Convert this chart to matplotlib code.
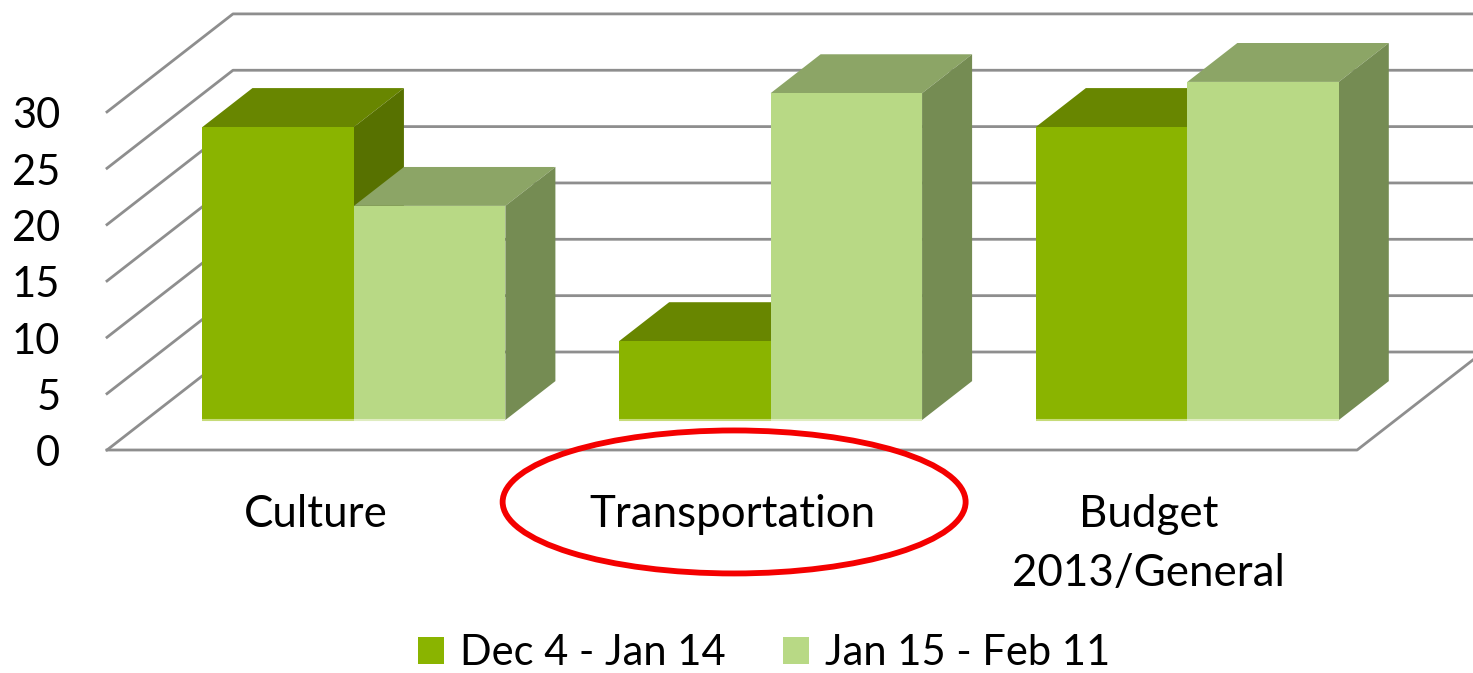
import matplotlib
matplotlib.use("Agg")
import matplotlib.pyplot as plt
from matplotlib.patches import Polygon, Ellipse, Patch

categories = ["Culture", "Transportation", "Budget\n2013/General"]
series_names = ["Dec 4 - Jan 14", "Jan 15 - Feb 11"]
dec_jan = [26, 7, 26]
jan_feb = [19, 29, 30]
y_ticks = [0, 5, 10, 15, 20, 25, 30]

plt.rcParams['font.family'] = ['Lato', 'DejaVu Sans']

# one x unit = one category, one y unit = one value, depth goes from 0 to 1
PX_X = 416.7
PX_Y = 11.27
DEPTH_X = 126 / PX_X
DEPTH_Y = 98 / PX_Y
BAR_W = 0.3635
D0, D1 = 0.306, 0.703

# front face, top, side, thin base strip
dark = ("#8ab400", "#688600", "#577100", "#c6db78")
light = ("#b8d985", "#8ca566", "#758c53", "#dfecc0")
grid_c = "#8e8e8e"


def proj(x, v, d):
    return (x + d * DEPTH_X, v + d * DEPTH_Y)


def draw_bar(ax, x, v, cols, z):
    x2 = x + BAR_W
    ax.add_patch(Polygon([proj(x, v, D0), proj(x2, v, D0), proj(x2, v, D1), proj(x, v, D1)],
                         fc=cols[1], ec="none", zorder=z))
    ax.add_patch(Polygon([proj(x2, 0, D0), proj(x2, v, D0), proj(x2, v, D1), proj(x2, 0, D1)],
                         fc=cols[2], ec="none", zorder=z))
    ax.add_patch(Polygon([proj(x, 0, D0), proj(x2, 0, D0), proj(x2, v, D0), proj(x, v, D0)],
                         fc=cols[0], ec="none", zorder=z + 0.1))
    ax.plot(*zip(proj(x, 0, D0), proj(x2, 0, D0)), color=cols[3], lw=1.5, zorder=z + 0.2,
            solid_capstyle="butt")


fig = plt.figure(figsize=(14.73, 6.73), dpi=100)
ax = fig.add_axes([0, 0, 1, 1])
ax.set_xlim(-107 / PX_X, (1473 - 107) / PX_X)
ax.set_ylim((450 - 673) / PX_Y, 450 / PX_Y)
ax.axis("off")

n = len(categories)
# walls and floor grid
for t in y_ticks:
    ax.plot(*zip(proj(0, t, 0), proj(0, t, 1), proj(n, t, 1)), color=grid_c, lw=2.0, zorder=1)
ax.plot(*zip(proj(0, 0, 0), proj(n, 0, 0), proj(n, 0, 1)), color=grid_c, lw=2.0, zorder=1)

for i in range(n):
    z = 2 + i
    draw_bar(ax, i + 0.5 - BAR_W, dec_jan[i], dark, z)
    draw_bar(ax, i + 0.5, jan_feb[i], light, z + 0.5)

for t in y_ticks:
    ax.text(-0.112, t - 0.38, str(t), ha="right", va="center", fontsize=30, color="black")

for i, c in enumerate(categories):
    ax.text(i + 0.5, -3.9, c, ha="center", va="top", fontsize=31.6, color="black", linespacing=1.54)

ax.add_patch(Ellipse((1.505, -4.61), 463 / PX_X, 143 / PX_Y, fc="none", ec="#f40000", lw=4.2, zorder=10))

handles = [Patch(fc=dark[0]), Patch(fc=light[0])]
ax.legend(handles, series_names, ncol=2, frameon=False, fontsize=30, loc="center",
          bbox_to_anchor=(0.5187, 1 - 653 / 673), handlelength=0.62, handleheight=0.62,
          handletextpad=0.38, columnspacing=1.39, borderpad=0)

fig.savefig("out.png", dpi=100)
